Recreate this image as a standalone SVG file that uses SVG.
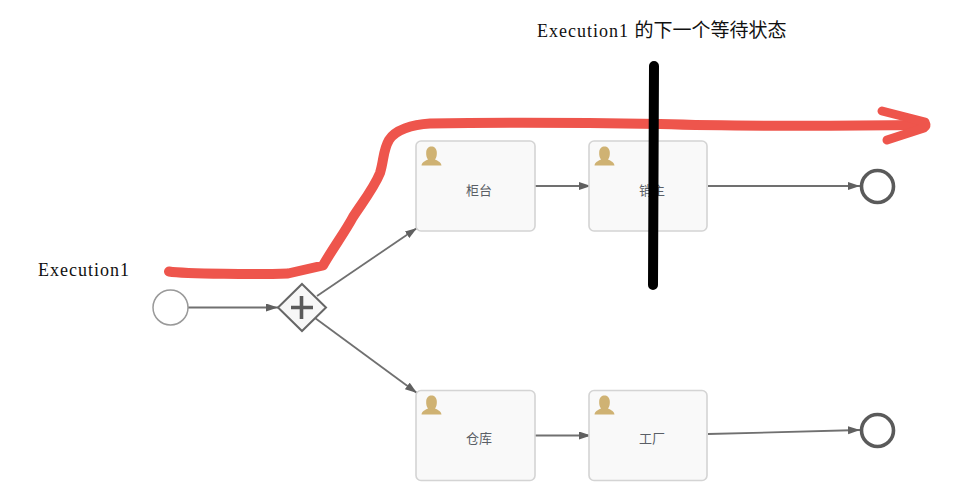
<svg xmlns="http://www.w3.org/2000/svg" width="968" height="500" viewBox="0 0 968 500">
<style>
.task{fill:#f9f9f9;stroke:#d4d4d4;stroke-width:1.6}
.lbl{font:13px "Noto Sans CJK SC","Liberation Sans",sans-serif;fill:#5a5f66;text-anchor:middle}
.note{font:18px "Liberation Serif","Noto Sans CJK SC",serif;fill:#111;letter-spacing:1px}
.cjk{font:19px "Noto Sans CJK SC",sans-serif;letter-spacing:0}
.flow{fill:none;stroke:#707070;stroke-width:1.8;marker-end:url(#arr)}
.end{fill:#fff;stroke:#5a5a5a;stroke-width:3.6}
.ico{fill:#cfb273}
</style>
<defs>
<marker id="arr" markerUnits="userSpaceOnUse" markerWidth="13" markerHeight="9" refX="12" refY="4" orient="auto"><path d="M0 0L12 4L0 8z" fill="#606060"/></marker>
<symbol id="user" viewBox="0 0 21 20" overflow="visible"><path class="ico" d="M0.500 19.500C1 16 4 15 7 13.500C5.500 11.500 5 9 5.200 6C5.500 2.500 7.700 0.500 10.500 0.500C13.300 0.500 15.500 2.500 15.800 6C16 9 15.500 11.500 14 13.500C17 15 20 16 20.500 19.500Z"/></symbol>
</defs>
<g id="connectors">
<path class="flow" d="M187 307.500H278"/>
<path class="flow" d="M317 296L417 228"/>
<path class="flow" d="M315 318L417 393"/>
<path class="flow" d="M535 186H591"/>
<path class="flow" d="M708 186H860"/>
<path class="flow" d="M535 435.500H591"/>
<path class="flow" d="M708 434L860 430"/>
</g>
<g id="start"><circle cx="170.500" cy="307.500" r="17.500" fill="#fff" stroke="#999" stroke-width="1.500"/></g>
<g id="gateway">
<path d="M302 284L326 307.500L302 331L278 307.500Z" fill="#f7f7f7" stroke="#666" stroke-width="2"/>
<path d="M301.500 296V319M291 307.500H313" stroke="#5a5a5a" stroke-width="3.600" fill="none"/>
</g>
<g id="task-guitai"><rect class="task" x="416" y="141" width="119" height="90" rx="5"/><use href="#user" x="421" y="146" width="21" height="20"/><text class="lbl" x="479" y="195">柜台</text></g>
<g id="task-xiaoshou"><rect class="task" x="589" y="141" width="118" height="90" rx="5"/><use href="#user" x="594" y="146" width="21" height="20"/><text class="lbl" x="652" y="195">销主</text></g>
<g id="task-cangku"><rect class="task" x="416" y="390.500" width="119" height="90" rx="5"/><use href="#user" x="421" y="395" width="21" height="20"/><text class="lbl" x="479" y="443">仓库</text></g>
<g id="task-gongchang"><rect class="task" x="589" y="390.500" width="118" height="90" rx="5"/><use href="#user" x="594" y="395" width="21" height="20"/><text class="lbl" x="652" y="443">工厂</text></g>
<g id="end1"><circle class="end" cx="877.500" cy="186.500" r="16"/></g>
<g id="end2"><circle class="end" cx="877.500" cy="430.500" r="16"/></g>
<path d="M169 271.500C185 274 260 274.500 288 273.500L323 265.500C333 248 345 232 353 217C362 203 374 188 380 173C384 160 383 150 389 140C395 130 412 124.500 430 123.500C520 122 600 123 660 124C740 126.500 840 126 925 125" fill="none" stroke="#ee554c" stroke-width="10" stroke-linecap="round" stroke-linejoin="round"/>
<path d="M882 111L925 122Q927 126 924 128L887 140" fill="none" stroke="#ee554c" stroke-width="9" stroke-linecap="round" stroke-linejoin="round"/>
<path d="M654 66L653 285" fill="none" stroke="#000" stroke-width="10" stroke-linecap="round"/>
<text class="note" x="537" y="37">Execution1 <tspan class="cjk">的下一个等待状态</tspan></text>
<text class="note" x="38" y="276">Execution1</text>
</svg>
